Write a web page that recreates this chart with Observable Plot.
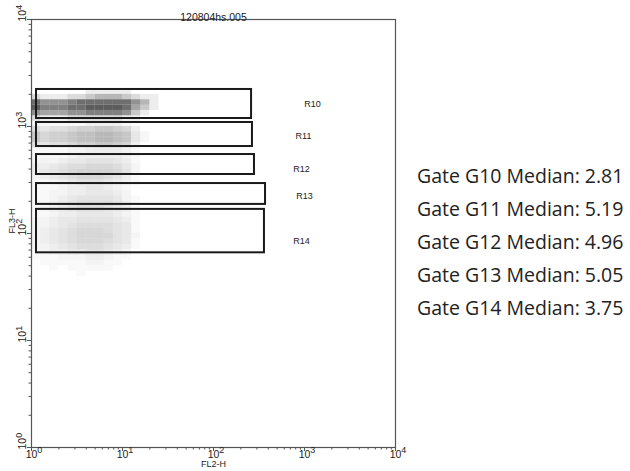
<!DOCTYPE html>
<html>
<head>
<meta charset="utf-8">
<script src="https://cdn.jsdelivr.net/npm/d3@7"></script>
<script src="https://cdn.jsdelivr.net/npm/@observablehq/plot@0.6"></script>
<style>
  html, body { margin: 0; padding: 0; background: #fff; }
  #wrap { position: relative; width: 630px; height: 471px; }
  #stats { position: absolute; left: 417px; top: 0; font-family: "Open Sans", "Noto Sans", sans-serif; font-size: 19.5px; color: #222; }
  #stats div { position: absolute; white-space: nowrap; line-height: 1; transform: translateY(-50%); }
</style>
</head>
<body>
<div id="wrap"><div id="stats"></div></div>
<script>
// ---- data ----
const plotTitle = "120804hs.005";
const xLabel = "FL2-H";
const yLabel = "FL3-H";
const majorTicks = [1, 10, 100, 1000, 10000];
const tickBase = "10";
const tickExponents = ["0", "1", "2", "3", "4"];

const gateNames = ["R10", "R11", "R12", "R13", "R14"];
const gateX1 = [1.135, 1.135, 1.135, 1.135, 1.135];
const gateX2 = [262, 268, 282, 373, 363];
const gateY1 = [1188, 650, 356, 187, 66];
const gateY2 = [2218, 1090, 547, 293, 168];
const gateLabelX = [1224, 975, 927, 1000, 927];
const gateLabelY = [1606, 807, 396, 222, 84];

const medianGates = ["G10", "G11", "G12", "G13", "G14"];
const medianValues = ["2.81", "5.19", "4.96", "5.05", "3.75"];
const medianTextY = [176, 209, 242, 275, 308];

// event density (0-9) per cell: columns = 0.1 decade of FL2-H from 10^0,
// rows = 0.05 decade of FL3-H from 10^3.40 downward
const densityRows = [
  "00000000000000",
  "00000011111000",
  "21112234443211",
  "86667888888641",
  "97778899998531",
  "65556677776310",
  "21112222221100",
  "11111122221000",
  "43445667765200",
  "75667889987310",
  "75667889987310",
  "43445667765200",
  "11112233332100",
  "11112333332100",
  "22234455543100",
  "33456677764200",
  "34567888875200",
  "23456777653100",
  "11234555432100",
  "11123344321000",
  "11223344432000",
  "11234555542100",
  "12345666653100",
  "12345666543100",
  "11233444432100",
  "22344555543100",
  "22345666654100",
  "23456777654100",
  "23456777754200",
  "23456777654100",
  "22345666543100",
  "12334455432000",
  "11122233211000",
  "01111122110000",
  "00101111100000",
  "00000100000000"
];
const densityTone = ["dark","dark","dark","dark","dark","dark","dark",
  "mid","mid","mid","mid","mid"]; // remaining rows: light

// ---- build tables ----
const gates = gateNames.map((name, i) => ({
  name, x1: gateX1[i], x2: gateX2[i], y1: gateY1[i], y2: gateY2[i],
  lx: gateLabelX[i], ly: gateLabelY[i]
}));
const toneColor = {dark: "#333", mid: "#888", light: "#999"};
const toneMax = {dark: 0.8, mid: 0.6, light: 0.5};
const cells = [];
densityRows.forEach((row, r) => {
  const tone = densityTone[r] || "light";
  [...row].forEach((ch, c) => {
    const d = +ch;
    if (d > 0) cells.push({
      x1: Math.pow(10, c * 0.1), x2: Math.pow(10, (c + 1) * 0.1),
      y1: Math.pow(10, 3.40 - (r + 1) * 0.05), y2: Math.pow(10, 3.40 - r * 0.05),
      tone, op: d / 9 * toneMax[tone]
    });
  });
});
const minorTicks = majorTicks.slice(0, -1).flatMap(p => [2,3,4,5,6,7,8,9].map(k => k * p));
const tickLabels = majorTicks.map((v, i) => ({v, base: tickBase, exp: tickExponents[i]}));

const chart = Plot.plot({
  width: 630,
  height: 471,
  marginLeft: 31,
  marginRight: 235,
  marginTop: 19,
  marginBottom: 24,
  style: {fontFamily: "'Liberation Sans', Arial, sans-serif", color: "#222", background: "#fff"},
  x: {type: "log", domain: [1, 10000], label: null},
  y: {type: "log", domain: [1, 10000], label: null},
  marks: [
    Plot.rect(cells, {x1: "x1", x2: "x2", y1: "y1", y2: "y2",
      fill: d => toneColor[d.tone], fillOpacity: "op", inset: 0}),
    Plot.rect(gates, {x1: "x1", x2: "x2", y1: "y1", y2: "y2",
      fill: "none", stroke: "#1a1a1a", strokeWidth: 2, inset: 0}),
    Plot.text(gates, {x: "lx", y: "ly", text: "name", fontSize: 9, fill: "#222"}),
    Plot.frame({stroke: "#555", strokeWidth: 1.2}),
    Plot.axisX({ticks: majorTicks, tickSize: 4, tickFormat: () => "", stroke: "#555", label: null}),
    Plot.axisX({ticks: minorTicks, tickSize: 2.5, tickFormat: () => "", stroke: "#555", label: null}),
    Plot.axisY({ticks: majorTicks, tickSize: 4, tickFormat: () => "", stroke: "#555", label: null}),
    Plot.axisY({ticks: minorTicks, tickSize: 2.5, tickFormat: () => "", stroke: "#555", label: null}),
    Plot.text(tickLabels, {x: "v", text: "base", frameAnchor: "bottom", dy: 10, dx: 2.5, fontSize: 10.5, fill: "#222", className: "xtl"}),
    Plot.text(tickLabels, {y: "v", text: "base", frameAnchor: "left", dx: -9, dy: 2, rotate: -90, fontSize: 10.5, fill: "#222", className: "ytl"}),
    Plot.text([plotTitle], {frameAnchor: "top", dy: -6, fontSize: 10.5, fill: "#222"}),
    Plot.text([xLabel], {frameAnchor: "bottom", dy: 19, fontSize: 9, fill: "#222"}),
    Plot.text([yLabel], {frameAnchor: "left", dx: -19, rotate: -90, fontSize: 9, fill: "#222"})
  ]
});
// superscript exponents as real tspans
for (const cls of ["xtl", "ytl"]) {
  d3.select(chart).selectAll(`g.${cls} text`).each(function(i) {
    const idx = typeof i === "number" ? i : d3.select(this).datum();
    d3.select(this).append("tspan")
      .attr("dy", "-0.45em").attr("font-size", 9)
      .text(tickLabels[idx] ? tickLabels[idx].exp : "");
  });
}
document.getElementById("wrap").prepend(chart);

const stats = document.getElementById("stats");
medianGates.forEach((g, i) => {
  const div = document.createElement("div");
  div.textContent = `Gate ${g} Median: ${medianValues[i]}`;
  div.style.top = medianTextY[i] + "px";
  stats.appendChild(div);
});
</script>
</body>
</html>
